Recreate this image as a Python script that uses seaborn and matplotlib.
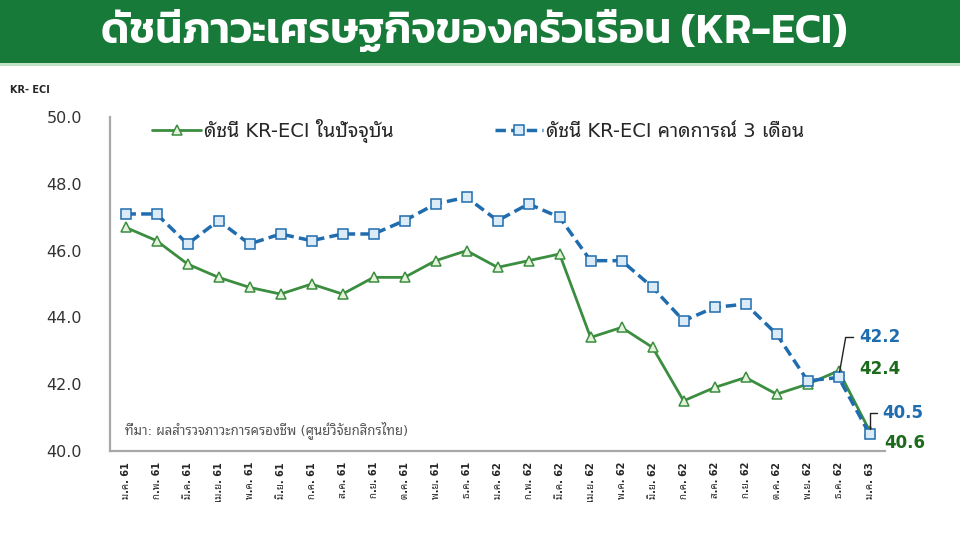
import numpy as np
import pandas as pd
import seaborn as sns
import matplotlib
matplotlib.use("Agg")
import matplotlib.pyplot as plt
from matplotlib.patches import Rectangle

months = ["ม.ค. 61", "ก.พ. 61", "มี.ค. 61", "เม.ย. 61", "พ.ค. 61", "มิ.ย. 61",
          "ก.ค. 61", "ส.ค. 61", "ก.ย. 61", "ต.ค. 61", "พ.ย. 61", "ธ.ค. 61",
          "ม.ค. 62", "ก.พ. 62", "มี.ค. 62", "เม.ย. 62", "พ.ค. 62", "มิ.ย. 62",
          "ก.ค. 62", "ส.ค. 62", "ก.ย. 62", "ต.ค. 62", "พ.ย. 62", "ธ.ค. 62",
          "ม.ค. 63"]
current = [46.7, 46.3, 45.6, 45.2, 44.9, 44.7, 45.0, 44.7, 45.2, 45.2, 45.7, 46.0,
           45.5, 45.7, 45.9, 43.4, 43.7, 43.1, 41.5, 41.9, 42.2, 41.7, 42.0, 42.4, 40.6]
expected = [47.1, 47.1, 46.2, 46.9, 46.2, 46.5, 46.3, 46.5, 46.5, 46.9, 47.4, 47.6,
            46.9, 47.4, 47.0, 45.7, 45.7, 44.9, 43.9, 44.3, 44.4, 43.5, 42.1, 42.2, 40.5]
yticks = [40.0, 42.0, 44.0, 46.0, 48.0, 50.0]

name_cur = "ดัชนี KR-ECI ในปัจจุบัน"
name_exp = "ดัชนี KR-ECI คาดการณ์ 3 เดือน"
title = "ดัชนีภาวะเศรษฐกิจของครัวเรือน (KR-ECI)"
source = "ที่มา: ผลสำรวจภาวะการครองชีพ (ศูนย์วิจัยกสิกรไทย)"

df = pd.DataFrame({"pos": np.arange(len(months)), "month": months,
                   "current": current, "expected": expected})

sns.set_style("white")
plt.rcParams["font.family"] = ["DejaVu Sans", "Noto Sans Thai Looped"]

GREEN = "#3b8d3f"
BLUE = "#1f6cae"

fig = plt.figure(figsize=(9.6, 5.4), dpi=100)
ax = fig.add_axes([0.1146, 0.165, 0.8074, 0.618])

sns.lineplot(data=df, x="pos", y="current", ax=ax, color=GREEN, lw=2,
             marker="^", markersize=6.5, markerfacecolor="#e6f3dc",
             markeredgecolor=GREEN, markeredgewidth=1.1, label=name_cur)
sns.lineplot(data=df, x="pos", y="expected", ax=ax, color=BLUE, lw=2.5,
             linestyle=(0, (3, 1.5)), marker="s", markersize=6.5,
             markerfacecolor="#dcebf8", markeredgecolor=BLUE,
             markeredgewidth=1.1, label=name_exp)

ax.set_xlim(-0.5, len(months) - 0.5)
ax.set_ylim(40, 50)
ax.set_yticks(yticks)
ax.set_yticklabels([f"{v:.1f}" for v in yticks], fontsize=11.5, color="#333333")
ax.set_xticks(df["pos"])
ax.set_xticklabels(months, rotation=90, fontsize=7, fontweight="bold", va="top")
ax.set_xticks(np.arange(-0.5, len(months)), minor=True)
ax.tick_params(axis="x", which="major", length=0, pad=8)
ax.tick_params(axis="x", which="minor", length=5, color="#a8a8a8", width=1.2)
ax.tick_params(axis="y", length=5, color="#a8a8a8", width=1.2, pad=15)
ax.set_xlabel("")
ax.set_ylabel("")
sns.despine(ax=ax)
for s in ["left", "bottom"]:
    ax.spines[s].set_color("#a8a8a8")
    ax.spines[s].set_linewidth(1.6)

ax.legend(loc="center left", bbox_to_anchor=(0.032, 0.96), ncol=2, frameon=False,
          fontsize=14, columnspacing=5.2, handlelength=2.5, handletextpad=0.15)

# end labels
last = len(months) - 1
ax.annotate(f"{expected[-2]:.1f}", xy=(last - 1, expected[-2]), xytext=(21, 40),
            textcoords="offset pixels", color=BLUE, fontsize=12, fontweight="bold",
            va="center", ha="left",
            arrowprops=dict(arrowstyle="-", color="#222222", lw=1,
                            shrinkA=2, shrinkB=4,
                            connectionstyle="angle,angleA=180,angleB=80,rad=0"))
ax.annotate(f"{current[-2]:.1f}", xy=(last - 1, current[-2]), xytext=(21, 2),
            textcoords="offset pixels", color="#1c6b1c", fontsize=12,
            fontweight="bold", va="center", ha="left")
ax.annotate(f"{expected[-1]:.1f}", xy=(last, expected[-1]), xytext=(13, 21),
            textcoords="offset pixels", color=BLUE, fontsize=12, fontweight="bold",
            va="center", ha="left",
            arrowprops=dict(arrowstyle="-", color="#222222", lw=1,
                            shrinkA=2, shrinkB=4,
                            connectionstyle="angle,angleA=180,angleB=90,rad=0"))
ax.annotate(f"{current[-1]:.1f}", xy=(last, current[-1]), xytext=(15, -12),
            textcoords="offset pixels", color="#1c6b1c", fontsize=12,
            fontweight="bold", va="center", ha="left")

ax.text(0.019, 0.063, source, transform=ax.transAxes, fontsize=9.5,
        color="#555555", va="center", ha="left")

fig.text(10 / 960, 1 - 90 / 540, "KR- ECI", fontsize=7, fontweight="bold",
         va="center", ha="left")

# title banner
fig.patches.append(Rectangle((0, 1 - 63 / 540), 1, 63 / 540, transform=fig.transFigure,
                             facecolor="#177a38", edgecolor="none", zorder=0))
fig.patches.append(Rectangle((0, 1 - 66 / 540), 1, 3 / 540, transform=fig.transFigure,
                             facecolor="#bfe3c6", edgecolor="none", zorder=0))
fig.text(0.494, 1 - 30 / 540, title, color="white", fontsize=31, fontweight="semibold",
         ha="center", va="center", family=["Kanit", "DejaVu Sans"])

fig.savefig("out.png", dpi=100)
